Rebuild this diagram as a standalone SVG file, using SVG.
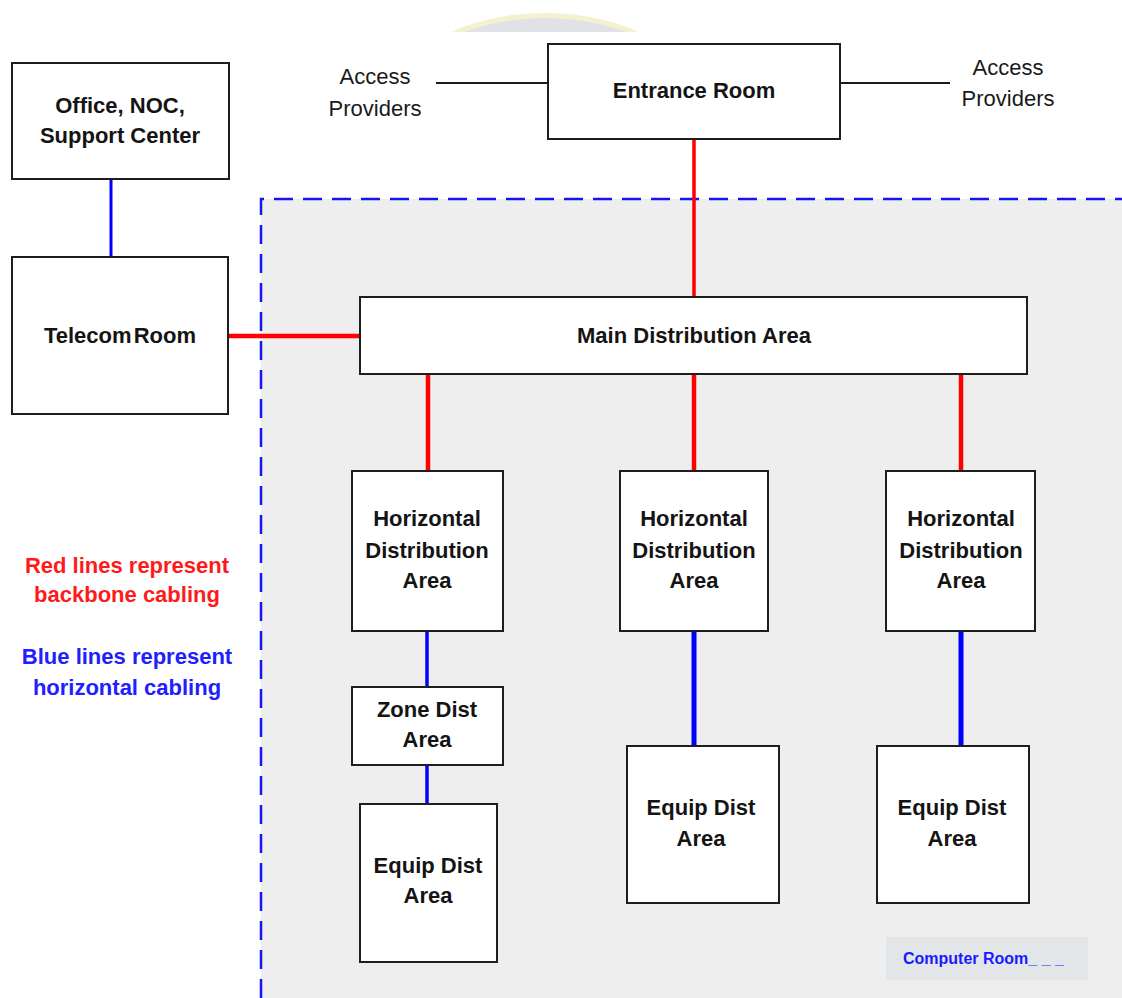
<svg xmlns="http://www.w3.org/2000/svg" width="1122" height="998" viewBox="0 0 1122 998">
  <style>
    .box { fill: #ffffff; stroke: #1e1e1e; stroke-width: 2; }
    .lbl { font-family: "Liberation Sans", Arial, sans-serif; font-size: 22px; font-weight: bold; fill: #141414; text-anchor: middle; }
    .ap { font-family: "Liberation Sans", Arial, sans-serif; font-size: 22px; fill: #1a1a1a; text-anchor: middle; }
    .leg { font-family: "Liberation Sans", Arial, sans-serif; font-size: 22px; font-weight: bold; text-anchor: middle; }
    .red { stroke: #ff0000; fill: none; }
    .blue { stroke: #0000ff; fill: none; }
    .plain { stroke: #1a1a1a; stroke-width: 2; fill: none; }
  </style>
  <defs>
    <clipPath id="topClip">
      <rect x="0" y="0" width="1122" height="32"/>
    </clipPath>
  </defs>

  <rect x="0" y="0" width="1122" height="998" fill="#ffffff"/>

  <!-- faint emblem at the top edge -->
  <g clip-path="url(#topClip)" opacity="0.85">
    <ellipse cx="545" cy="95" rx="146" ry="82" fill="#f4efc8"/>
    <ellipse cx="545" cy="97" rx="142" ry="79" fill="#dcdde5"/>
  </g>

  <!-- computer room zone -->
  <g id="computer-room">
    <rect x="261" y="199" width="861" height="799" fill="#eeeeee"/>
    <path d="M261,998 V199 H1122" fill="none" stroke="#1414ff" stroke-width="2.5" stroke-dasharray="19 10"/>
    <rect x="886" y="937" width="202" height="43" fill="#e2e6e8"/>
    <text x="903" y="964" font-family="'Liberation Sans', Arial, sans-serif" font-size="16" font-weight="bold" fill="#1a1aff">Computer Room_ _ _</text>
  </g>

  <!-- cabling -->
  <g id="connectors">
    <line class="plain" x1="436" y1="83" x2="548" y2="83"/>
    <line class="plain" x1="840" y1="83" x2="950" y2="83"/>
    <line class="red" stroke-width="3.5" x1="694" y1="139" x2="694" y2="297"/>
    <line class="red" stroke-width="4.5" x1="228" y1="336" x2="362" y2="336"/>
    <line class="red" stroke-width="4.5" x1="428" y1="374" x2="428" y2="471"/>
    <line class="red" stroke-width="4.5" x1="694" y1="374" x2="694" y2="471"/>
    <line class="red" stroke-width="4.5" x1="961" y1="374" x2="961" y2="471"/>
    <line class="blue" stroke-width="3" x1="111" y1="179" x2="111" y2="257"/>
    <line class="blue" stroke-width="3.5" x1="427" y1="631" x2="427" y2="687"/>
    <line class="blue" stroke-width="3.5" x1="427" y1="765" x2="427" y2="804"/>
    <line class="blue" stroke-width="5" x1="694" y1="628" x2="694" y2="747"/>
    <line class="blue" stroke-width="5" x1="961" y1="631" x2="961" y2="746"/>
  </g>

  <g id="access-left">
    <text class="ap" x="375" y="84">Access</text>
    <text class="ap" x="375" y="116">Providers</text>
  </g>
  <g id="access-right">
    <text class="ap" x="1008" y="75">Access</text>
    <text class="ap" x="1008" y="106">Providers</text>
  </g>

  <g id="entrance-room">
    <rect class="box" x="548" y="44" width="292" height="95"/>
    <text class="lbl" x="694" y="98">Entrance Room</text>
  </g>

  <g id="office">
    <rect class="box" x="12" y="63" width="217" height="116"/>
    <text class="lbl" x="120" y="113">Office, NOC,</text>
    <text class="lbl" x="120" y="143">Support Center</text>
  </g>

  <g id="telecom-room">
    <rect class="box" x="12" y="257" width="216" height="157"/>
    <text class="lbl" x="120" y="343" word-spacing="-4">Telecom Room</text>
  </g>

  <g id="main-distribution">
    <rect class="box" x="360" y="297" width="667" height="77"/>
    <text class="lbl" x="694" y="343" textLength="234" lengthAdjust="spacingAndGlyphs">Main Distribution Area</text>
  </g>

  <g id="hda-1">
    <rect class="box" x="352" y="471" width="151" height="160"/>
    <text class="lbl" x="427" y="526">Horizontal</text>
    <text class="lbl" x="427" y="558">Distribution</text>
    <text class="lbl" x="427" y="588">Area</text>
  </g>
  <g id="hda-2">
    <rect class="box" x="620" y="471" width="148" height="160"/>
    <text class="lbl" x="694" y="526">Horizontal</text>
    <text class="lbl" x="694" y="558">Distribution</text>
    <text class="lbl" x="694" y="588">Area</text>
  </g>
  <g id="hda-3">
    <rect class="box" x="886" y="471" width="149" height="160"/>
    <text class="lbl" x="961" y="526">Horizontal</text>
    <text class="lbl" x="961" y="558">Distribution</text>
    <text class="lbl" x="961" y="588">Area</text>
  </g>

  <g id="zone-dist">
    <rect class="box" x="352" y="687" width="151" height="78"/>
    <text class="lbl" x="427" y="717">Zone Dist</text>
    <text class="lbl" x="427" y="747">Area</text>
  </g>

  <g id="equip-1">
    <rect class="box" x="360" y="804" width="137" height="158"/>
    <text class="lbl" x="428" y="873">Equip Dist</text>
    <text class="lbl" x="428" y="903">Area</text>
  </g>
  <g id="equip-2">
    <rect class="box" x="627" y="746" width="152" height="157"/>
    <text class="lbl" x="701" y="815">Equip Dist</text>
    <text class="lbl" x="701" y="846">Area</text>
  </g>
  <g id="equip-3">
    <rect class="box" x="877" y="746" width="152" height="157"/>
    <text class="lbl" x="952" y="815">Equip Dist</text>
    <text class="lbl" x="952" y="846">Area</text>
  </g>

  <g id="legend">
    <text class="leg" x="127" y="573" fill="#ff1a1a">Red lines represent</text>
    <text class="leg" x="127" y="602" fill="#ff1a1a">backbone cabling</text>
    <text class="leg" x="127" y="664" fill="#2020ff">Blue lines represent</text>
    <text class="leg" x="127" y="695" fill="#2020ff">horizontal cabling</text>
  </g>
</svg>
